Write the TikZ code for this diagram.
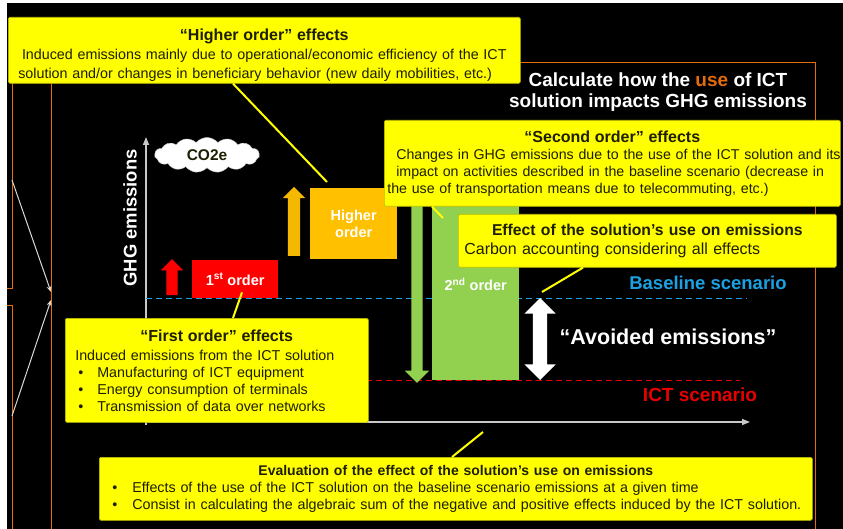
\documentclass[tikz,border=0pt]{standalone}
\usepackage{fontspec}
\setmainfont{Liberation Sans}
\usetikzlibrary{shapes.symbols, shapes.arrows, arrows.meta}
\definecolor{boxyellow}{HTML}{FFFF00}
\definecolor{boxedge}{HTML}{BDBD00}
\definecolor{boxtext}{HTML}{1E1E00}
\definecolor{frameorange}{HTML}{E46C0A}
\definecolor{firstred}{HTML}{FF0000}
\definecolor{higheramber}{HTML}{FFC000}
\definecolor{goldarrow}{HTML}{F5B800}
\definecolor{secondgreen}{HTML}{92D050}
\definecolor{baseblue}{HTML}{1BA1E2}
\definecolor{ictred}{HTML}{E80000}
\definecolor{axisgray}{HTML}{C8C8C8}
\tikzset{
    ybox/.style={draw=boxedge, fill=boxyellow, line width=.6pt, rounded corners=1.5pt, inner ysep=0pt, text=boxtext, font=\fontsize{14.3}{17}\selectfont},
    bar/.style={inner sep=0pt, text=white, font=\bfseries\fontsize{14.5}{16.5}\selectfont, align=center},
    blockarrow/.style={single arrow, inner xsep=0pt, single arrow tip angle=90},
    callout/.style={draw=boxyellow, line width=2pt},
    frame/.style={draw=frameorange, line width=1pt},
    pointer/.style={draw=white!85!black, line width=1pt, -{Stealth[length=6pt,width=5pt]}},
    axis/.style={draw=axisgray, line width=1.5pt, -{Triangle[length=8pt,width=6pt]}},
}
\newcommand{\boxhead}[2]{{\centering\bfseries\fontsize{#1}{19}\selectfont #2\par}}
\newcommand{\bitem}{\par\hspace*{3pt}\makebox[19pt][l]{\textbullet}\ignorespaces}

\begin{document}
\begin{tikzpicture}[x=1pt, y=-1pt]
    \useasboundingbox (0,0) rectangle (843,529);
    \fill[white] (0,0) rectangle (843,529);
    \fill[black] (7,3) rectangle (843,529);
    % frames and the pointers on the left
    \draw[frame] (12,63) -- (12,289) -- (7,289);
    \draw[frame] (7,305) -- (12,305) -- (12,529);
    \draw[frame] (51,529) -- (51,63) -- (815,63) -- (815,529);
    \coordinate (ptop) at (12,180);
    \coordinate (pbot) at (12,416);
    \coordinate (pin1) at (51,292);
    \coordinate (pin2) at (51,300);
    \draw[pointer] (ptop) -- (pin1);
    \draw[pointer] (pbot) -- (pin2);
    % axes and scenario levels
    \coordinate (origin) at (146,422);
    \draw[axis] (146,425) -- (146,137);
    \draw[axis] (origin) -- (750,422);
    \draw[draw=baseblue, line width=1pt, dash pattern=on 6pt off 4pt] (146,298) -- (747,298);
    \draw[draw=ictred, line width=1pt, dash pattern=on 6pt off 4pt] (146,380) -- (740,380);
    % bars
    \node[bar, fill=firstred, minimum width=86pt, minimum height=38pt, anchor=north west] (fobar) at (192,260) {1\textsuperscript{st} order};
    \node[bar, fill=higheramber, minimum width=87pt, minimum height=71pt, anchor=north west] (hobar) at (310,188) {Higher\\order};
    \node[bar, fill=secondgreen, minimum width=87pt, minimum height=192pt, anchor=north west] (sobar) at (432,188) {2\textsuperscript{nd} order};
    % arrows
    \node[blockarrow, fill=firstred, rotate=90, minimum height=36pt, inner ysep=5.5pt, single arrow head extend=5.5pt] (foarrow) at (172,280) {};
    \node[blockarrow, fill=goldarrow, rotate=90, minimum height=69pt, inner ysep=6pt, single arrow head extend=5pt] (hoarrow) at (294,224.5) {};
    \node[blockarrow, fill=secondgreen, rotate=-90, minimum height=180pt, inner ysep=5.5pt, single arrow head extend=6.5pt] (soarrow) at (417,290) {};
    \node[double arrow, fill=white, rotate=90, inner xsep=0pt, minimum height=82pt, inner ysep=7pt, double arrow head extend=8.5pt, double arrow tip angle=90] (avoidarrow) at (540,339) {};
    \coordinate (avtop) at (540,298);
    % labels
    \node[cloud, cloud puffs=15, cloud puff arc=100, aspect=3.2, fill=white, draw=white!75!black, minimum width=105pt, minimum height=35pt, inner sep=0pt, text=boxtext, font=\bfseries\fontsize{15.5}{18}\selectfont] (co2) at (207,155) {CO2e};
    \node[text=white, align=center, font=\bfseries\fontsize{19}{21.5}\selectfont] (title) at (658,92) {Calculate how the \textcolor{frameorange}{use} of ICT\\solution impacts GHG emissions};
    \node[rotate=90, text=white, font=\bfseries\fontsize{18.4}{20}\selectfont] (ghg) at (130,218) {GHG emissions};
    \node[text=baseblue, font=\bfseries\fontsize{18.5}{20}\selectfont] (basetext) at (708,283) {Baseline scenario};
    \node[text=white, font=\bfseries\fontsize{21.5}{24}\selectfont] (avoided) at (668,337) {“Avoided emissions”};
    \node[text=ictred, font=\bfseries\fontsize{19}{21}\selectfont] (icttext) at (700,395) {ICT scenario};
    % yellow boxes
    \node[ybox, anchor=north west, text width=492pt, inner xsep=10pt, minimum height=66pt, font=\fontsize{14.3}{19}\selectfont] (hobox) at (8,17)
        {\boxhead{16}{\rule{0pt}{21.5pt}“Higher order” effects}\centering Induced emissions mainly due to operational/economic efficiency of the ICT\\ solution and/or changes in beneficiary behavior (new daily mobilities, etc.)};
    \node[ybox, anchor=north west, text width=450pt, inner xsep=3pt, minimum height=86pt, font=\fontsize{14.2}{17}\selectfont] (sobox) at (384,120)
        {\boxhead{16}{“Second order” effects}\raggedright\leftskip=9pt \mbox{Changes in GHG emissions due to the use of the ICT solution and its}\\ \mbox{impact on activities described in the baseline scenario (decrease in}\\ \mbox{the use of transportation means due to telecommuting, etc.)}};
    \node[ybox, anchor=north west, text width=366pt, inner xsep=6pt, minimum height=53pt, font=\fontsize{16}{19}\selectfont] (efbox) at (458,214)
        {\boxhead{15.7}{Effect of the solution’s use on emissions}\raggedright\leftskip=5pt Carbon accounting considering all effects};
    \node[ybox, anchor=north west, text width=283pt, inner xsep=10pt, minimum height=104pt] (fobox) at (65,318)
        {\boxhead{16}{“First order” effects}\vspace{2pt}\raggedright Induced emissions from the ICT solution\bitem Manufacturing of ICT equipment\bitem Energy consumption of terminals\bitem Transmission of data over networks};
    \node[ybox, anchor=north west, text width=693pt, inner xsep=10pt, minimum height=63pt] (evbox) at (99,457)
        {\boxhead{14}{Evaluation of the effect of the solution’s use on emissions}\raggedright\hspace*{3pt}\makebox[20pt][l]{\textbullet}Effects of the use of the ICT solution on the baseline scenario emissions at a given time\bitem\hspace*{1pt}Consist in calculating the algebraic sum of the negative and positive effects induced by the ICT solution.};
    % callouts
    \coordinate (evtip) at (483,432);
    \draw[callout] ([xshift=225pt]hobox.south west) -- ([xshift=17pt,yshift=6pt]hobar.north west);
    \draw[callout] ([xshift=48pt]sobox.south west) -- ([xshift=11pt,yshift=-30pt]sobar.north west);
    \draw[callout] ([xshift=125pt]efbox.south west) -- ([xshift=2pt,yshift=6pt]avtop);
    \draw[callout] ([xshift=168pt]fobox.north west) -- ([xshift=50pt,yshift=6pt]fobar.south west);
    \draw[callout] ([xshift=353pt]evbox.north west) -- (evtip);
\end{tikzpicture}
\end{document}
